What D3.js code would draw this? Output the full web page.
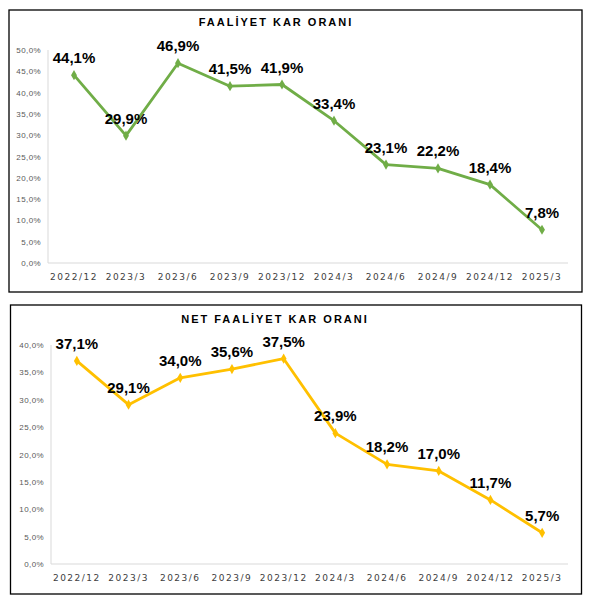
<html>
<head>
<script src="https://cdn.jsdelivr.net/npm/d3@7"></script>
<style>
  body { margin: 0; background: #fff; }
  text { font-family: 'Liberation Sans', Arial, sans-serif; }
</style>
</head>
<body>
<script>

var categories = ['2022/12', '2023/3', '2023/6', '2023/9', '2023/12', '2024/3', '2024/6', '2024/9', '2024/12', '2025/3'];
var faaliyetKar = [44.1, 29.9, 46.9, 41.5, 41.9, 33.4, 23.1, 22.2, 18.4, 7.8];
var netFaaliyetKar = [37.1, 29.1, 34.0, 35.6, 37.5, 23.9, 18.2, 17.0, 11.7, 5.7];
var ticks1 = [0, 5, 10, 15, 20, 25, 30, 35, 40, 45, 50];
var ticks2 = [0, 5, 10, 15, 20, 25, 30, 35, 40];

var svg = d3.select('body').append('svg')
  .attr('width', 596)
  .attr('height', 609);

var fmt = function (v) { return v.toFixed(1).replace('.', ',') + '%'; };

function drawChart(o) {
  var g = svg.append('g');

  g.append('rect')
    .attr('x', o.box[0]).attr('y', o.box[1])
    .attr('width', o.box[2]).attr('height', o.box[3])
    .style('fill', '#fff')
    .style('stroke', '#000')
    .style('stroke-width', 1.3);

  g.append('text')
    .attr('x', o.titleX).attr('y', o.titleY)
    .attr('text-anchor', 'middle')
    .style('font-size', '11px')
    .style('font-weight', 'bold')
    .style('letter-spacing', '2px')
    .style('fill', '#000')
    .text(o.title);

  var x = d3.scaleBand().domain(categories).range([o.left, o.right]).padding(0);
  var y = d3.scaleLinear().domain([0, d3.max(o.ticks)]).range([o.bottom, o.top]);

  // axis lines
  g.append('line')
    .attr('x1', o.left).attr('x2', o.right)
    .attr('y1', y(0)).attr('y2', y(0))
    .style('stroke', '#d9d9d9').style('stroke-width', 1);
  g.append('line')
    .attr('x1', o.left).attr('x2', o.left)
    .attr('y1', y(0)).attr('y2', y(d3.max(o.ticks)))
    .style('stroke', '#d9d9d9').style('stroke-width', 1);

  var yAxis = g.append('g')
    .attr('transform', 'translate(' + (o.left - 7) + ',0)')
    .call(d3.axisLeft(y).tickValues(o.ticks).tickSize(0).tickPadding(0).tickFormat(fmt));
  yAxis.select('.domain').remove();
  yAxis.selectAll('text')
    .style('font-family', "'Liberation Sans', Arial, sans-serif")
    .style('font-size', '8px')
    .style('letter-spacing', '0.4px')
    .style('fill', '#595959');

  var xAxis = g.append('g')
    .attr('transform', 'translate(0,' + y(0) + ')')
    .call(d3.axisBottom(x).tickSize(0).tickPadding(11));
  xAxis.select('.domain').remove();
  xAxis.selectAll('text')
    .style('font-family', "'DejaVu Sans', sans-serif")
    .style('font-size', '9px')
    .style('letter-spacing', '1.5px')
    .style('fill', '#404040');

  var pts = categories.map(function (c, i) { return [c, o.values[i]]; });
  var line = d3.line()
    .x(function (d) { return x(d[0]) + x.bandwidth() / 2; })
    .y(function (d) { return y(d[1]); });

  g.append('path')
    .datum(pts)
    .attr('d', line)
    .style('fill', 'none')
    .style('stroke', o.color)
    .style('stroke-width', 2.8)
    .style('stroke-linejoin', 'round');

  g.selectAll('.marker')
    .data(pts)
    .enter()
    .append('path')
    .attr('d', d3.symbol().type(d3.symbolDiamond).size(30))
    .attr('transform', function (d) {
      return 'translate(' + (x(d[0]) + x.bandwidth() / 2) + ',' + y(d[1]) + ')';
    })
    .style('fill', o.color);

  g.selectAll('.lbl')
    .data(pts)
    .enter()
    .append('text')
    .attr('x', function (d) { return x(d[0]) + x.bandwidth() / 2; })
    .attr('y', function (d) { return y(d[1]) - 12; })
    .attr('text-anchor', 'middle')
    .style('font-size', '15px')
    .style('font-weight', 'bold')
    .style('fill', '#000')
    .text(function (d) { return fmt(d[1]); });
}

drawChart({
  box: [9, 10, 573, 282],
  title: 'FAALİYET KAR ORANI', titleX: 276, titleY: 26,
  left: 48, right: 568, top: 50, bottom: 263,
  ticks: ticks1, values: faaliyetKar, color: '#70ad47'
});

drawChart({
  box: [10.5, 305, 571, 289],
  title: 'NET FAALİYET KAR ORANI', titleX: 275, titleY: 323,
  left: 51, right: 568, top: 345, bottom: 564,
  ticks: ticks2, values: netFaaliyetKar, color: '#ffc000'
});

</script>
</body>
</html>
